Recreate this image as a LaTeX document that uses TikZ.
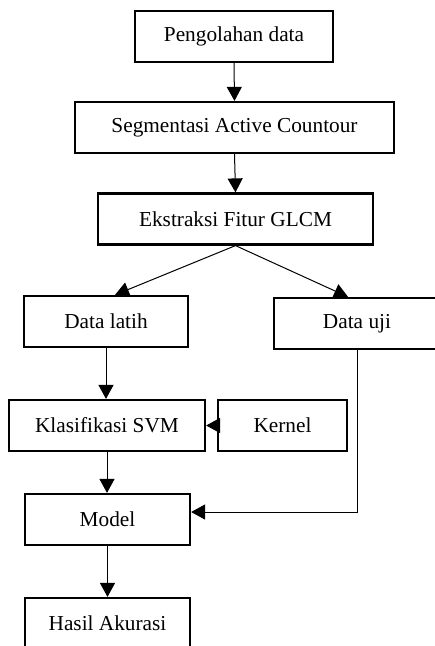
\documentclass[tikz,border=0pt]{standalone}
\usepackage{fontspec}
\setmainfont{Liberation Serif}
\usetikzlibrary{arrows.meta}
\begin{document}
\begin{tikzpicture}[x=1pt,y=-1pt,
  box/.style={draw,line width=2.2pt,rectangle,minimum height=51pt,inner sep=0pt,
    font=\fontsize{21.3}{24}\selectfont},
  arr/.style={line width=1pt,-{Triangle[length=14pt,width=15pt]}}]
\useasboundingbox (0,0) rectangle (435,646);
\clip (0,0) rectangle (435,646);
\node[box,minimum width=198pt] (pd) at (234,36.5) {Pengolahan data};
\node[box,minimum width=319pt] (seg) at (234.5,127.5) {Segmentasi Active Countour};
\node[box,minimum width=275pt] (glcm) at (235.5,219) {Ekstraksi Fitur GLCM};
\node[box,minimum width=164pt] (dl) at (106,321.5) {Data latih};
\node[box,minimum width=166pt] (du) at (357,323.5) {Data uji};
\node[box,minimum width=196pt] (svm) at (107,425.5) {Klasifikasi SVM};
\node[box,minimum width=129pt] (ker) at (282.5,425.5) {Kernel};
\node[box,minimum width=165pt] (mod) at (107.5,519.5) {Model};
\node[box,minimum width=165pt] (has) at (107.5,623.5) {Hasil Akurasi};
\draw[arr] (pd.south) -- (seg.north);
\draw[arr] (seg.south) -- (glcm.north);
\draw[arr] (glcm.south) -- ([xshift=9pt]dl.north);
\draw[arr] (glcm.south) -- ([xshift=-9pt]du.north);
\draw[arr] (dl.south) -- (dl.south |- svm.north);
\draw[arr] (ker.west) -- (svm.east);
\draw[arr] (svm.south) -- (svm.south |- mod.north);
\draw[arr] (du.south) |- ([yshift=7.5pt]mod.east);
\draw[arr] (mod.south) -- (has.north);
\end{tikzpicture}
\end{document}
